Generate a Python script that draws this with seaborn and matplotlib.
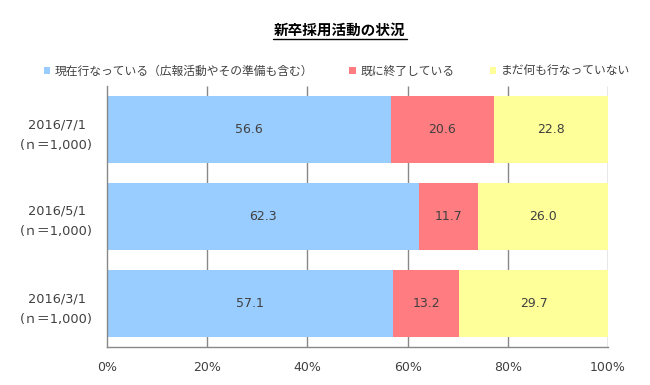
import matplotlib
matplotlib.use("Agg")
import matplotlib.pyplot as plt
import seaborn as sns
import pandas as pd
import numpy as np
from matplotlib.patches import Patch

categories = ["2016/7/1\n(ｎ＝1,000)", "2016/5/1\n(ｎ＝1,000)", "2016/3/1\n(ｎ＝1,000)"]
series_names = ["現在行なっている（広報活動やその準備も含む）", "既に終了している", "まだ何も行なっていない"]
doing = [56.6, 62.3, 57.1]
done = [20.6, 11.7, 13.2]
notyet = [22.8, 26.0, 29.7]
colors = ["#99CCFF", "#FF7C80", "#FFFF99"]
xticks = [0, 20, 40, 60, 80, 100]

sns.set_theme(style="white")
plt.rcParams['font.family'] = ['DejaVu Sans', 'Noto Sans CJK JP']

fig = plt.figure(figsize=(6.5, 3.85), dpi=100)
ax = fig.add_axes([107/650, 1-347/385, (608-107)/650, (347-86)/385])

df = pd.DataFrame({"cat": categories, "a": doing, "b": done, "c": notyet})
df["ab"] = df["a"] + df["b"]
df["abc"] = df["ab"] + df["c"]

for col, c in [("abc", colors[2]), ("ab", colors[1]), ("a", colors[0])]:
    sns.barplot(data=df, x=col, y="cat", color=c, width=0.77, ax=ax, saturation=1)
for p in ax.patches:
    p.set_zorder(3)
    p.set_edgecolor("none")

ax.set_xlim(0, 100)
ax.set_ylim(2.5, -0.5)
ax.set_xlabel("")
ax.set_ylabel("")
ax.set_xticks(xticks)
ax.set_xticklabels([f"{t}%" for t in xticks], color="#404040", fontsize=9)
ax.set_yticks([0, 1, 2])
ax.set_yticklabels(categories, color="#404040", fontsize=9.3, linespacing=1.75, multialignment="center")
ax.tick_params(axis="y", length=0, pad=10)
ax.tick_params(axis="x", length=5, color="#888888", pad=5)
ax.set_yticks([-0.5, 0.5, 1.5, 2.5], minor=True)
ax.tick_params(axis="y", which="minor", length=5, color="#888888")
ax.grid(False)
ax.vlines(xticks[1:], -0.5, 2.5, colors="#888888", linewidth=1, zorder=1)
for s in ["top", "right"]:
    ax.spines[s].set_visible(False)
for s in ["left", "bottom"]:
    ax.spines[s].set_color("#888888")
    ax.spines[s].set_linewidth(1)
    ax.spines[s].set_zorder(4)

for i in range(len(categories)):
    starts = [0, doing[i], doing[i] + done[i]]
    vals = [doing[i], done[i], notyet[i]]
    for s0, v in zip(starts, vals):
        ax.text(s0 + v / 2, i, f"{v:.1f}", ha="center", va="center", fontsize=9, color="#404040", zorder=5)

fig.text(340/650, 1-30/385, "新卒採用活動の状況", ha="center", va="center", fontsize=10.5,
         fontweight="bold", color="#000000", family=['Noto Sans CJK JP'])
fig.add_artist(plt.Line2D([273/650, 407/650], [1-39/385, 1-39/385], color="black", linewidth=1))

handles = [Patch(facecolor=c, edgecolor="none") for c in colors]
leg = fig.legend(handles, series_names, loc="center", bbox_to_anchor=(337/650, 1-71/385), ncol=3, frameon=False,
           handlelength=0.55, handleheight=0.55, handletextpad=0.4, columnspacing=3.0,
           prop={'family': ['Noto Sans CJK JP'], 'size': 8.5})
for t in leg.get_texts():
    t.set_color("#404040")

fig.savefig("out.png", dpi=100)
